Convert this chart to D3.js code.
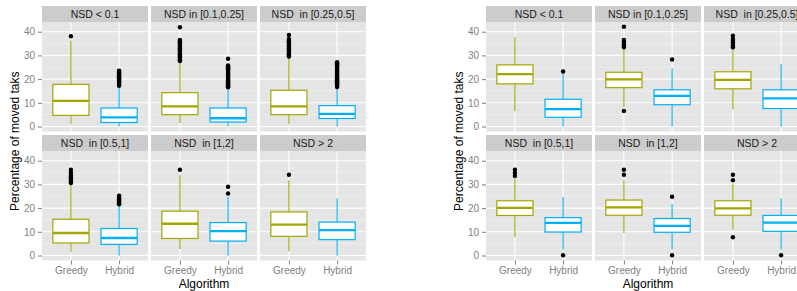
<!DOCTYPE html>
<html>
<head>
<meta charset="utf-8">
<script src="https://cdn.jsdelivr.net/npm/d3@7"></script>
<style>
  body { margin: 0; background: #fff; }
  svg { display: block; font-family: "Liberation Sans", Arial, sans-serif; }
</style>
</head>
<body>
<div id="chart"></div>
<script>
// facet labels (double spaces are in the original)
const facets = ['NSD < 0.1', 'NSD in [0.1,0.25]', 'NSD  in [0.25,0.5]',
                'NSD  in [0.5,1]', 'NSD  in [1,2]', 'NSD > 2'];
const algorithms = ['Greedy', 'Hybrid'];
const yTicks = [0, 10, 20, 30, 40];
const yMinor = [5, 15, 25, 35];

// box stats per facet: [lower whisker, q1, median, q3, upper whisker]
const leftGreedy = [
  [1.0, 4.7, 10.8, 17.8, 36.3],
  [1.5, 5.0, 8.5, 14.3, 27.4],
  [1.0, 5.0, 8.5, 15.3, 29.2],
  [1.4, 5.3, 9.5, 15.3, 30.4],
  [2.8, 7.2, 13.4, 18.7, 33.9],
  [1.8, 8.1, 13.0, 18.4, 31.8]
];
const leftHybrid = [
  [0, 1.7, 3.9, 7.8, 17.0],
  [0, 1.9, 3.5, 7.8, 16.2],
  [0, 3.4, 5.3, 8.8, 16.4],
  [0, 4.7, 7.4, 11.4, 21.3],
  [0, 6.1, 10.3, 13.9, 24.8],
  [0, 6.7, 10.7, 14.1, 24.1]
];
const leftGreedyOut = [
  [38.1],
  [41.9, 36.5, 36.0, 35.5, 35.0, 34.5, 34.0, 33.5, 33.0, 32.5, 32.0, 31.5, 31.0, 30.5, 30.0, 29.5, 29.0, 28.5, 28.0, 27.6],
  [38.6, 37.0, 36.5, 36.0, 35.5, 35.0, 34.5, 34.0, 33.5, 33.0, 32.5, 32.0, 31.5, 31.0, 30.5, 30.0, 29.5],
  [36.2, 35.0, 34.0, 33.5, 33.0, 32.5, 32.0, 31.5, 31.0, 30.6],
  [36.2],
  [34.1]
];
const leftHybridOut = [
  [23.6, 23.2, 22.8, 22.4, 22.0, 21.6, 21.2, 20.8, 20.4, 20.0, 19.6, 19.2, 18.8, 18.4, 18.0, 17.6, 17.2],
  [28.6, 25.8, 25.4, 25.0, 24.6, 24.2, 23.8, 23.4, 23.0, 22.6, 22.2, 21.8, 21.4, 21.0, 20.6, 20.2, 19.8, 19.4, 19.0, 18.6, 18.2, 17.8, 17.4, 17.0, 16.6],
  [27.1, 26.7, 26.3, 25.9, 25.5, 25.1, 24.7, 24.3, 23.9, 23.5, 23.1, 22.7, 22.3, 21.9, 21.5, 21.1, 20.7, 20.3, 19.9, 19.5, 19.1, 18.7, 18.3, 17.9, 17.5, 17.1, 16.7],
  [25.2, 24.8, 24.4, 24.0, 23.6, 23.2, 22.8, 22.4, 22.0, 21.6],
  [29.0, 26.2],
  []
];

const rightGreedy = [
  [6.4, 18.0, 22.1, 26.0, 37.9],
  [8.2, 16.4, 19.9, 22.9, 32.7],
  [7.3, 15.9, 19.7, 23.1, 33.0],
  [7.8, 16.9, 20.1, 23.1, 32.5],
  [9.5, 17.0, 20.3, 23.4, 31.8],
  [10.9, 17.0, 19.9, 23.1, 30.4]
];
const rightHybrid = [
  [0, 3.9, 7.3, 11.5, 22.2],
  [0, 9.2, 12.9, 15.5, 24.6],
  [0, 7.6, 11.9, 15.5, 26.4],
  [2.5, 9.9, 13.8, 16.0, 24.8],
  [2.5, 9.8, 12.5, 15.6, 21.7],
  [2.5, 10.2, 13.9, 16.9, 24.1]
];
const rightGreedyOut = [
  [],
  [42.1, 36.5, 35.8, 35.2, 34.6, 34.0, 33.4, 6.6],
  [38.3, 36.9, 36.2, 35.5, 34.8, 34.1, 33.4],
  [36.2, 34.8, 33.6],
  [36.2, 34.1],
  [34.1, 31.8, 7.7]
];
const rightHybridOut = [
  [23.2],
  [28.3],
  [],
  [0.1],
  [24.8, 0.1],
  [0.1]
];

const width = 797, height = 291;
const colors = { Greedy: '#A3A500', Hybrid: '#00B0F6' };

const svg = d3.select('#chart')
  .append('svg')
  .attr('width', width)
  .attr('height', height);

const pw = 106, ph = 109.5, stripH = 16;
const colStep = 109, rowStep = 129;

const x = d3.scalePoint()
  .domain(algorithms)
  .range([0, pw])
  .padding(0.6);
const boxW = x.step() * 0.75;

const y = d3.scaleLinear()
  .domain([-2.1, 44.1])
  .range([ph, 0]);

function drawChart(offset, greedy, hybrid, greedyOut, hybridOut) {
  const root = svg.append('g').attr('transform', `translate(${offset}, 0)`);
  const stats = { Greedy: greedy, Hybrid: hybrid };
  const outs = { Greedy: greedyOut, Hybrid: hybridOut };

  facets.forEach((label, i) => {
    const col = i % 3, row = Math.floor(i / 3);
    const fx = 42 + col * colStep;
    const fy = 6 + row * rowStep;

    // strip
    root.append('rect')
      .attr('x', fx).attr('y', fy)
      .attr('width', pw).attr('height', stripH)
      .attr('fill', '#CCCCCC');
    root.append('text')
      .attr('x', fx + pw / 2).attr('y', fy + 12)
      .attr('text-anchor', 'middle')
      .attr('font-size', 10.5)
      .attr('fill', '#1a1a1a')
      .style('white-space', 'pre')
      .text(label);

    const g = root.append('g').attr('transform', `translate(${fx}, ${fy + stripH})`);

    g.append('rect')
      .attr('width', pw).attr('height', ph)
      .attr('fill', '#E5E5E5');

    g.selectAll('.minor').data(yMinor).join('line')
      .attr('x1', 0).attr('x2', pw)
      .attr('y1', d => y(d)).attr('y2', d => y(d))
      .attr('stroke', '#F2F2F2').attr('stroke-width', 0.6);

    g.selectAll('.major').data(yTicks).join('line')
      .attr('x1', 0).attr('x2', pw)
      .attr('y1', d => y(d)).attr('y2', d => y(d))
      .attr('stroke', '#fff').attr('stroke-width', 1.1);

    g.selectAll('.vmajor').data(algorithms).join('line')
      .attr('x1', d => x(d)).attr('x2', d => x(d))
      .attr('y1', 0).attr('y2', ph)
      .attr('stroke', '#fff').attr('stroke-width', 1.1);

    algorithms.forEach(alg => {
      const [lo, q1, med, q3, hi] = stats[alg][i];
      const cx = x(alg);
      const c = colors[alg];
      // whiskers
      g.append('line')
        .attr('x1', cx).attr('x2', cx)
        .attr('y1', y(hi)).attr('y2', y(q3))
        .attr('stroke', c).attr('stroke-width', 1.1);
      g.append('line')
        .attr('x1', cx).attr('x2', cx)
        .attr('y1', y(q1)).attr('y2', y(lo))
        .attr('stroke', c).attr('stroke-width', 1.1);
      // box
      g.append('rect')
        .attr('x', cx - boxW / 2).attr('y', y(q3))
        .attr('width', boxW).attr('height', y(q1) - y(q3))
        .attr('fill', '#fff')
        .attr('stroke', c).attr('stroke-width', 1.2);
      g.append('line')
        .attr('x1', cx - boxW / 2).attr('x2', cx + boxW / 2)
        .attr('y1', y(med)).attr('y2', y(med))
        .attr('stroke', c).attr('stroke-width', 2.3);
      // outliers
      g.selectAll(null).data(outs[alg][i]).join('circle')
        .attr('cx', cx).attr('cy', d => y(d))
        .attr('r', 2.2)
        .attr('fill', '#000');
    });

    if (col === 0) {
      const ax = g.append('g')
        .call(d3.axisLeft(y).tickValues(yTicks).tickSize(4).tickPadding(3))
        .call(a => a.select('.domain').remove());
      ax.selectAll('line').attr('stroke', '#7F7F7F');
      ax.selectAll('text').attr('fill', '#7F7F7F')
        .attr('font-size', 10).attr('font-family', '"Liberation Sans", Arial, sans-serif');
    }
    if (row === 1) {
      const ax = g.append('g')
        .attr('transform', `translate(0, ${ph})`)
        .call(d3.axisBottom(x).tickSize(4).tickPadding(2))
        .call(a => a.select('.domain').remove());
      ax.selectAll('line').attr('stroke', '#7F7F7F');
      ax.selectAll('text').attr('fill', '#7F7F7F')
        .attr('font-size', 10).attr('font-family', '"Liberation Sans", Arial, sans-serif');
    }
  });

  // axis titles
  root.append('text')
    .attr('x', 42 + (2 * colStep + pw) / 2).attr('y', 288)
    .attr('text-anchor', 'middle')
    .attr('font-size', 12)
    .text('Algorithm');
  root.append('text')
    .attr('transform', `translate(19, ${(22 + 6 + rowStep + stripH + ph) / 2}) rotate(-90)`)
    .attr('text-anchor', 'middle')
    .attr('font-size', 12)
    .text('Percentage of moved taks');
}

drawChart(0, leftGreedy, leftHybrid, leftGreedyOut, leftHybridOut);
drawChart(444, rightGreedy, rightHybrid, rightGreedyOut, rightHybridOut);
</script>
</body>
</html>
